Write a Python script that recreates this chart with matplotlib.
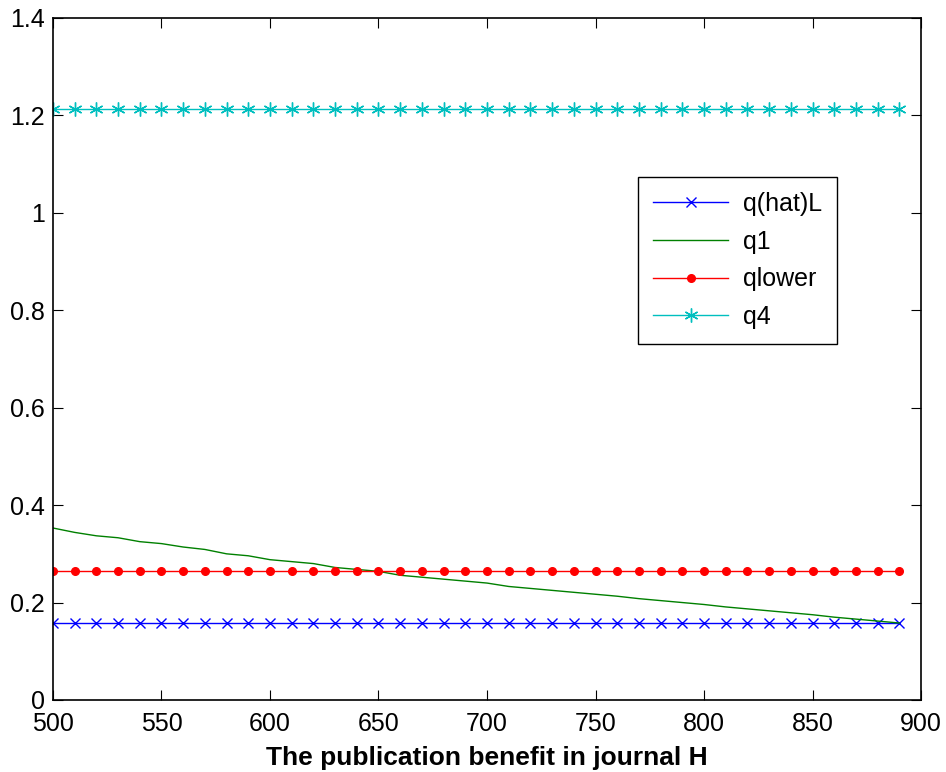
import matplotlib
matplotlib.use("Agg")
import matplotlib.pyplot as plt
from matplotlib.ticker import FormatStrFormatter

plt.rcParams['font.family'] = ['Liberation Sans', 'DejaVu Sans']

# data
x = list(range(500, 900, 10))
q_hat_L = [0.158] * len(x)
q1 = [0.353, 0.344, 0.337, 0.333, 0.325, 0.321, 0.314, 0.309, 0.300, 0.296,
      0.288, 0.284, 0.280, 0.272, 0.268, 0.264, 0.256, 0.252, 0.248, 0.244,
      0.240, 0.233, 0.229, 0.225, 0.221, 0.217, 0.213, 0.208, 0.204, 0.200,
      0.196, 0.191, 0.187, 0.183, 0.179, 0.175, 0.170, 0.166, 0.162, 0.158]
q_lower = [0.264] * len(x)
q4 = [1.214] * len(x)

fig = plt.figure(figsize=(9.46, 7.72), dpi=100)
ax = fig.add_axes([0.056, 0.0933, 0.9176, 0.8834])

ax.plot(x, q_hat_L, color="#0000ff", marker="x", markersize=7, lw=1, label="q(hat)L")
ax.plot(x, q1, color="#008000", lw=1, label="q1")
ax.plot(x, q_lower, color="#ff0000", marker="o", markersize=5.5, lw=1, label="qlower")
# matlab style asterisk
ax.plot(x, q4, color="#00bfbf", marker=(6, 2, 0), markersize=10, lw=1, label="q4")

ax.set_xlim(500, 900)
ax.set_ylim(0, 1.4)
ax.set_xticks(range(500, 901, 50))
ax.set_yticks([0, 0.2, 0.4, 0.6, 0.8, 1.0, 1.2, 1.4])
ax.yaxis.set_major_formatter(FormatStrFormatter('%g'))
ax.tick_params(direction="in", top=True, right=True, labelsize=18, length=7)
ax.tick_params(axis="x", pad=9)
ax.tick_params(axis="y", pad=6)
for s in ax.spines.values():
    s.set_linewidth(1.2)

ax.set_xlabel("The publication benefit in journal H", fontsize=19, fontweight="bold", labelpad=7)

leg = ax.legend(loc="upper left", bbox_to_anchor=(0.674, 0.767), borderaxespad=0,
                fontsize=18, fancybox=False, edgecolor="black", framealpha=1,
                handlelength=3.0, handletextpad=0.6, borderpad=0.6, labelspacing=0.55)
leg.get_frame().set_linewidth(1.0)

fig.savefig("out.png", dpi=100)
